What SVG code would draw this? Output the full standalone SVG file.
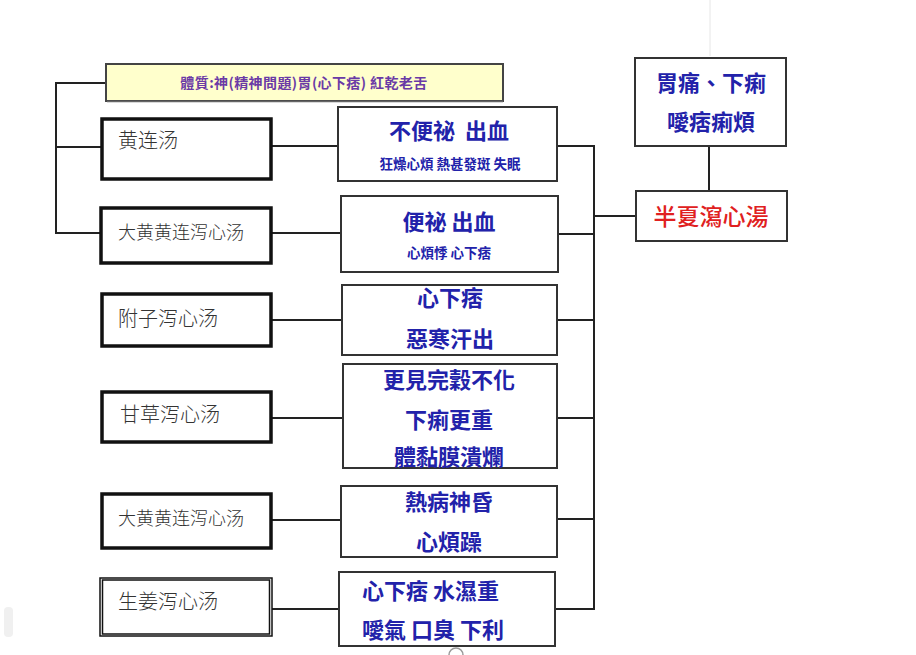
<svg xmlns="http://www.w3.org/2000/svg" width="916" height="655" viewBox="0 0 916 655">
<style>
.ln{stroke:#222;stroke-width:2;fill:none}
.lbox{fill:#fff;stroke:#111;stroke-width:3.5}
.mbox{fill:#fff;stroke:#333;stroke-width:2}
.lt{font-family:"Noto Sans CJK SC","Noto Sans CJK TC",sans-serif;font-weight:300;fill:#333}
.bt{font-family:"Noto Sans CJK TC","Noto Sans CJK SC",sans-serif;font-weight:bold;fill:#2222aa;text-anchor:middle}
.st{text-anchor:start}
.big{font-size:22px}
.sm{font-size:13.5px}
</style>
<rect width="916" height="655" fill="#fff"/>
<line x1="710" y1="0" x2="710" y2="56" stroke="#e6e6e6" stroke-width="1"/>
<rect x="4" y="607" width="9" height="30" rx="4" fill="#f0f0f0"/>
<path d="M449,655 A7,7 0 0 1 463,655" stroke="#999" stroke-width="1.5" fill="none"/>

<g id="connectors">
<polyline class="ln" points="105,83 56,83 56,233 101,233"/>
<line class="ln" x1="56" y1="147" x2="101" y2="147"/>
<line class="ln" x1="272" y1="146" x2="338" y2="146"/>
<line class="ln" x1="272" y1="233" x2="341" y2="233"/>
<line class="ln" x1="272" y1="320" x2="342" y2="320"/>
<line class="ln" x1="271" y1="418" x2="343" y2="418"/>
<line class="ln" x1="271" y1="520" x2="341" y2="520"/>
<line class="ln" x1="272" y1="609" x2="339" y2="609"/>
<line class="ln" x1="594" y1="145" x2="594" y2="610"/>
<line class="ln" x1="557" y1="146" x2="595" y2="146"/>
<line class="ln" x1="558" y1="234" x2="595" y2="234"/>
<line class="ln" x1="557" y1="320" x2="595" y2="320"/>
<line class="ln" x1="557" y1="418" x2="595" y2="418"/>
<line class="ln" x1="557" y1="519" x2="595" y2="519"/>
<line class="ln" x1="555" y1="609" x2="595" y2="609"/>
<line class="ln" x1="594" y1="216" x2="636" y2="216"/>
<line class="ln" x1="709" y1="146" x2="709" y2="191"/>
</g>

<g id="n-tizhi">
<rect x="106" y="64" width="397" height="37" fill="#ffffcc" stroke="#444" stroke-width="2"/>
<line x1="107" y1="101.5" x2="503" y2="101.5" stroke="#666" stroke-width="1.5"/>
<text x="304" y="88" text-anchor="middle" font-family="'Noto Sans CJK TC','Noto Sans CJK SC',sans-serif" font-weight="bold" font-size="14" fill="#6a3aa6" letter-spacing="0.4">體質:神(精神問題)胃(心下痞) 紅乾老舌</text>
</g>

<g id="n-huanglian">
<rect class="lbox" x="102" y="119" width="169" height="60"/>
<text class="lt" x="118" y="148" font-size="20">黄连汤</text>
</g>
<g id="n-dahuang1">
<rect class="lbox" x="101" y="208" width="170" height="55"/>
<text class="lt" x="118" y="239" font-size="18">大黄黄连泻心汤</text>
</g>
<g id="n-fuzi">
<rect class="lbox" x="102" y="294" width="169" height="52"/>
<text class="lt" x="118" y="326" font-size="20">附子泻心汤</text>
</g>
<g id="n-gancao">
<rect class="lbox" x="102" y="392" width="169" height="50"/>
<text class="lt" x="120" y="422" font-size="20">甘草泻心汤</text>
</g>
<g id="n-dahuang2">
<rect class="lbox" x="102" y="494" width="169" height="54"/>
<text class="lt" x="118" y="525" font-size="18">大黄黄连泻心汤</text>
</g>
<g id="n-shengjiang">
<rect x="100" y="578" width="172" height="58" fill="#fff" stroke="#111" stroke-width="1.5"/>
<rect x="102.5" y="580" width="167" height="54" fill="none" stroke="#111" stroke-width="1.5"/>
<text class="lt" x="118" y="609" font-size="20">生姜泻心汤</text>
</g>

<g id="m1">
<rect class="mbox" x="338" y="107" width="219" height="74"/>
<text class="bt big" x="449" y="139" xml:space="preserve">不便祕  出血</text>
<text class="bt sm" x="450" y="169">狂燥心煩 熱甚發斑 失眠</text>
</g>
<g id="m2">
<rect class="mbox" x="341" y="196" width="217" height="76"/>
<text class="bt big" x="449" y="230">便祕 出血</text>
<text class="bt sm" x="449" y="258">心煩悸 心下痞</text>
</g>
<g id="m3">
<rect class="mbox" x="342" y="285" width="215" height="70"/>
<text class="bt big" x="450" y="306">心下痞</text>
<text class="bt big" x="450" y="347">惡寒汗出</text>
</g>
<g id="m4">
<rect class="mbox" x="343" y="364" width="214" height="104"/>
<text class="bt big" x="449" y="388">更見完穀不化</text>
<text class="bt big" x="449" y="428">下痢更重</text>
<text class="bt big" x="449" y="465">體黏膜潰爛</text>
</g>
<g id="m5">
<rect class="mbox" x="341" y="486" width="216" height="71"/>
<text class="bt big" x="449" y="510">熱病神昏</text>
<text class="bt big" x="449" y="550">心煩躁</text>
</g>
<g id="m6">
<rect class="mbox" x="339" y="572" width="216" height="74"/>
<text class="bt big st" x="362" y="599">心下痞 水濕重</text>
<text class="bt big st" x="362" y="638">噯氣 口臭 下利</text>
</g>

<g id="n-weitong">
<rect class="mbox" x="635" y="58" width="151" height="88"/>
<text class="bt big" x="711" y="91">胃痛、下痢</text>
<text class="bt big" x="711" y="130">噯痞痢煩</text>
</g>
<g id="n-banxia">
<rect class="mbox" x="636" y="191" width="151" height="50"/>
<text x="711" y="225" text-anchor="middle" font-family="'Noto Sans CJK TC','Noto Sans CJK SC',sans-serif" font-weight="500" font-size="23" fill="#e02020">半夏瀉心湯</text>
</g>
</svg>
